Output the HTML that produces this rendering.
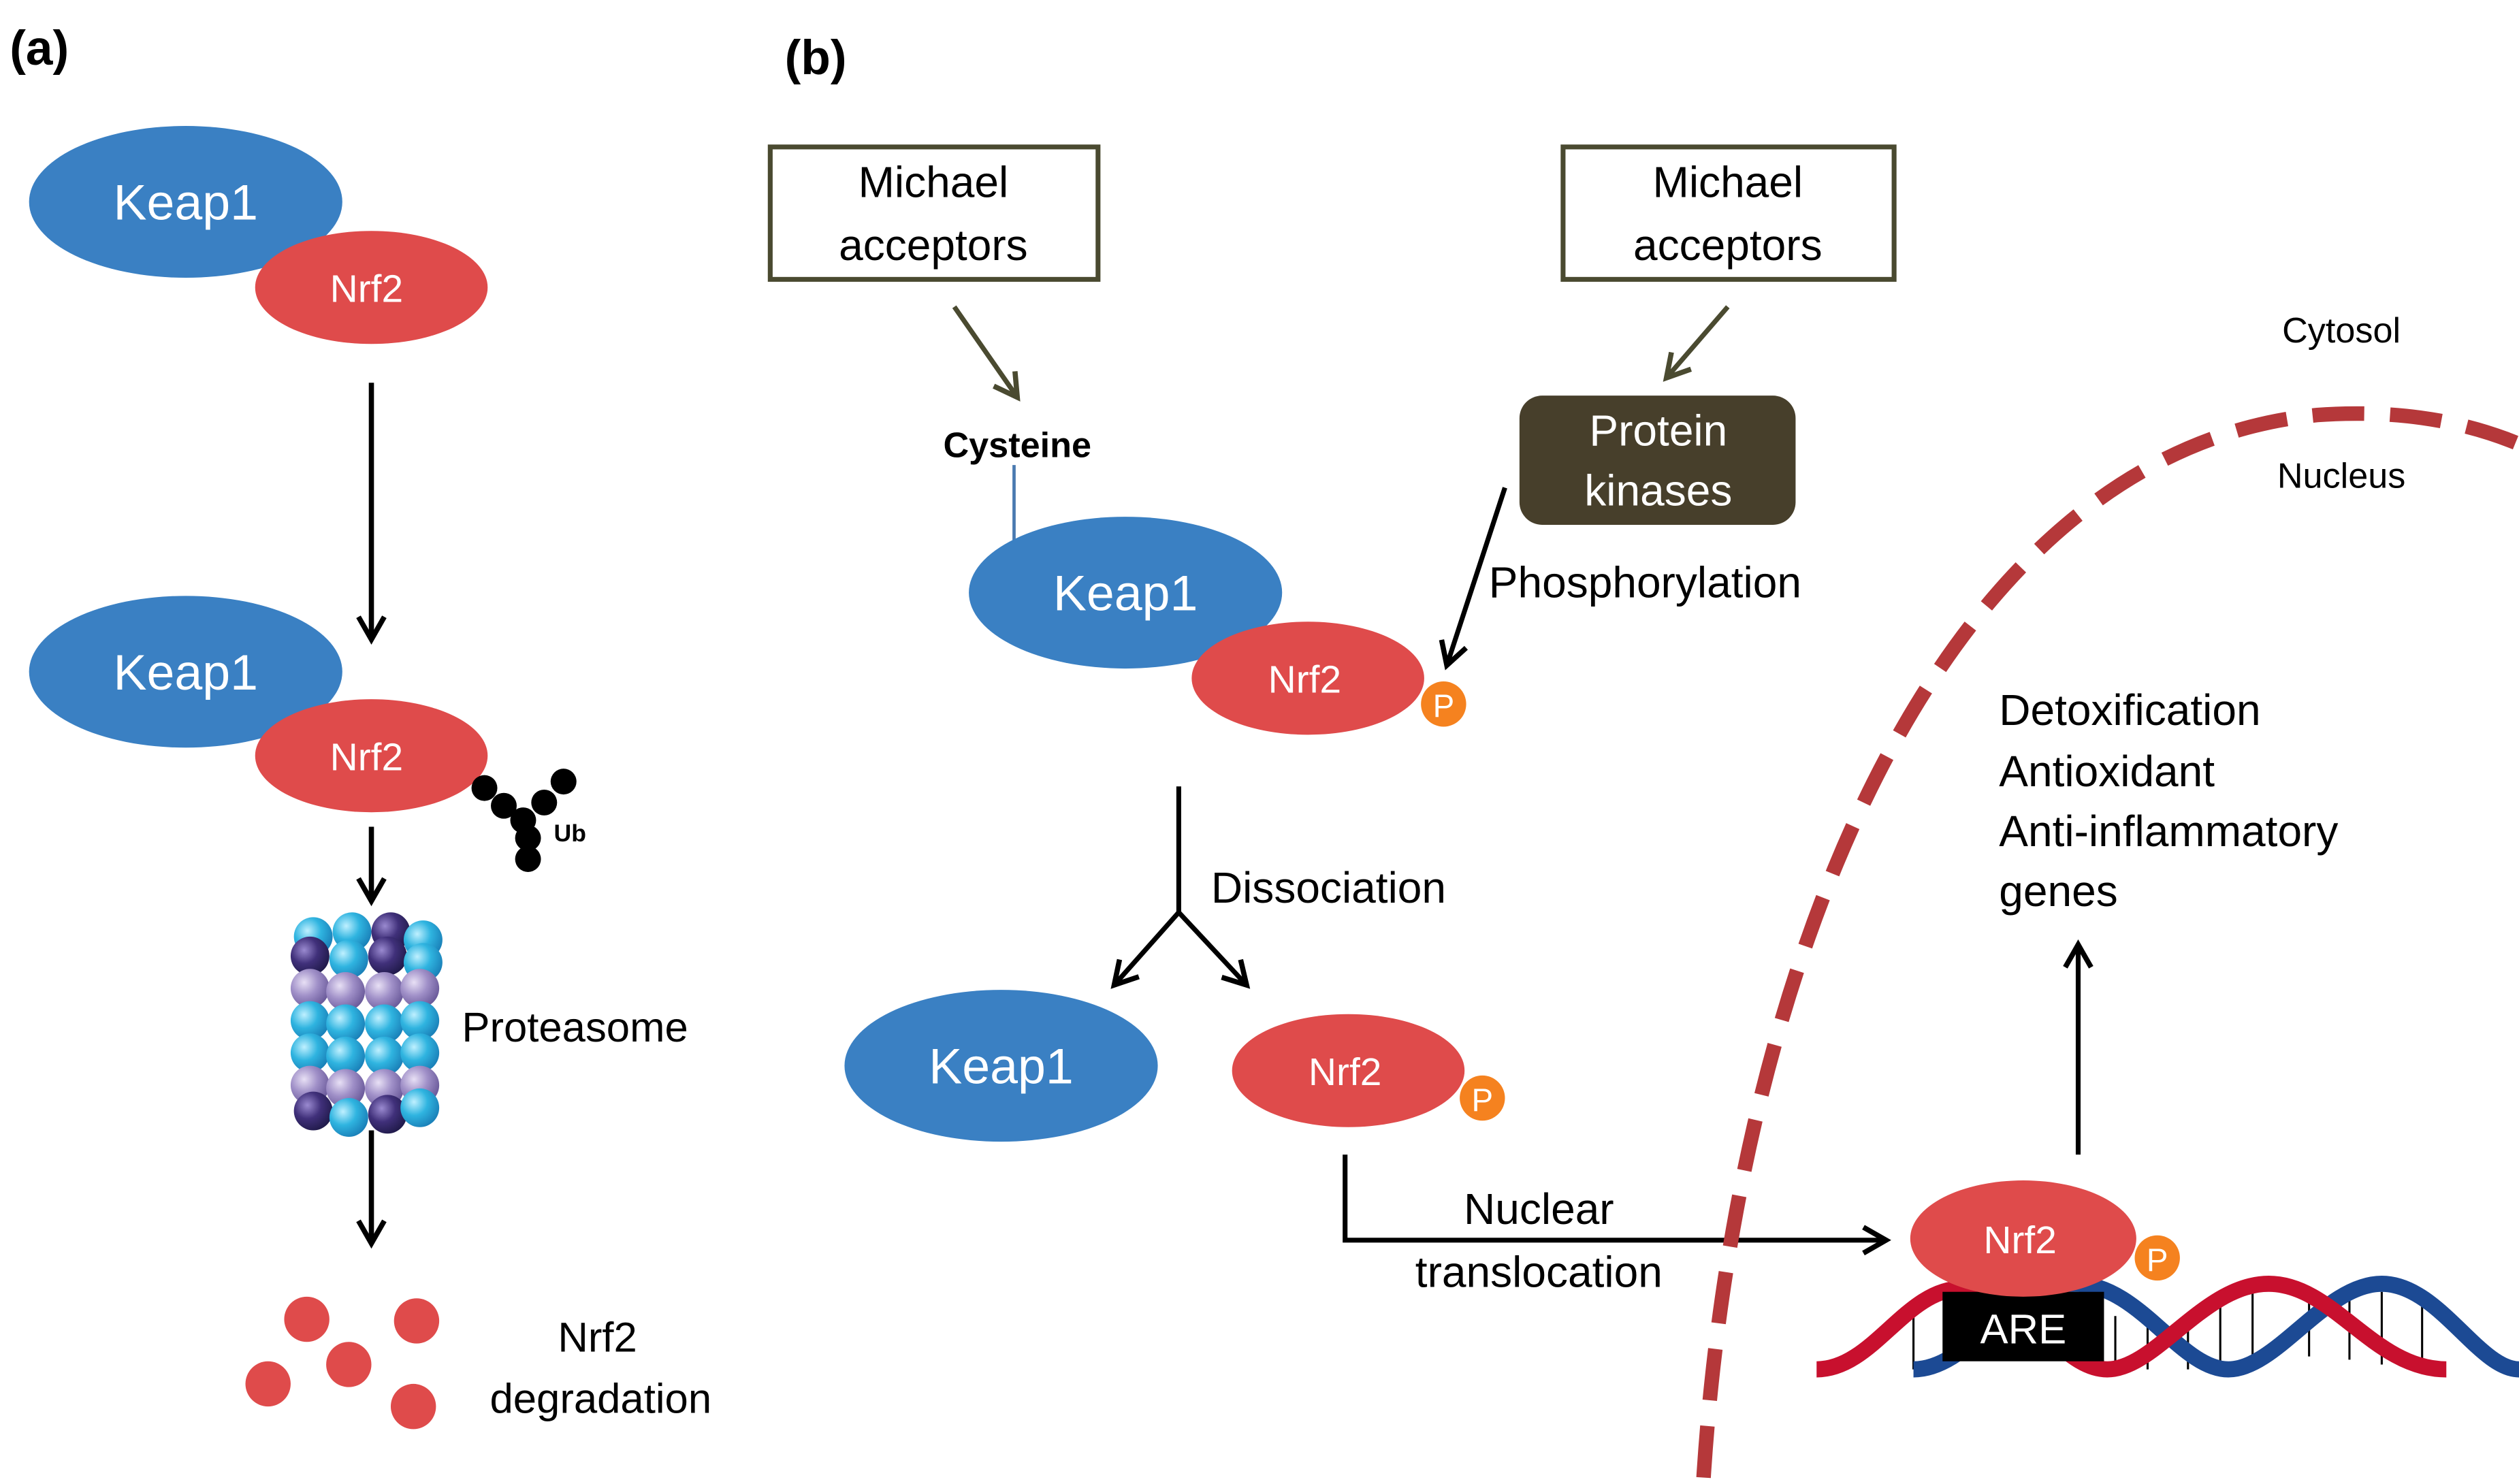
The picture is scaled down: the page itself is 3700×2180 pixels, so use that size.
<!DOCTYPE html>
<html><head><meta charset="utf-8"><style>
html,body{margin:0;padding:0;background:#fff;}
svg{display:block;}
text{font-family:"Liberation Sans",Arial,sans-serif;}
</style></head><body>
<svg width="3700" height="2180" viewBox="0 0 1560 919" preserveAspectRatio="none" xmlns="http://www.w3.org/2000/svg">
<defs>
<marker id="ahb" markerWidth="22" markerHeight="22" refX="18" refY="11" orient="auto" markerUnits="userSpaceOnUse">
<path d="M4,3 L18,11 L4,19" fill="none" stroke="#000" stroke-width="3.2"/>
</marker>
<marker id="aho" markerWidth="22" markerHeight="22" refX="18" refY="11" orient="auto" markerUnits="userSpaceOnUse">
<path d="M4,3 L18,11 L4,19" fill="none" stroke="#4a4a30" stroke-width="3.2"/>
</marker>
<radialGradient id="gc" cx="35%" cy="35%" r="70%"><stop offset="0" stop-color="#bff0ff"/><stop offset="0.5" stop-color="#2fb4e0"/><stop offset="1" stop-color="#1a80b8"/></radialGradient>
<radialGradient id="gp" cx="35%" cy="35%" r="70%"><stop offset="0" stop-color="#e8e0f5"/><stop offset="0.5" stop-color="#a090c8"/><stop offset="1" stop-color="#6a5a9a"/></radialGradient>
<radialGradient id="gd" cx="35%" cy="35%" r="70%"><stop offset="0" stop-color="#9a8ad0"/><stop offset="0.5" stop-color="#40307a"/><stop offset="1" stop-color="#201a4a"/></radialGradient>
</defs>

<text x="6" y="40" font-size="30" font-weight="bold">(a)</text>
<text x="486" y="46" font-size="30" font-weight="bold">(b)</text>

<!-- Panel a -->
<ellipse cx="115" cy="125" rx="97" ry="47" fill="#3a80c3"/>
<text x="115" y="136" font-size="31" fill="#fff" text-anchor="middle">Keap1</text>
<ellipse cx="230" cy="178" rx="72" ry="35" fill="#df4b4b"/>
<text x="227" y="187" font-size="24" fill="#fff" text-anchor="middle">Nrf2</text>
<line x1="230" y1="237" x2="230" y2="396" stroke="#000" stroke-width="3.2" marker-end="url(#ahb)"/>

<ellipse cx="115" cy="416" rx="97" ry="47" fill="#3a80c3"/>
<text x="115" y="427" font-size="31" fill="#fff" text-anchor="middle">Keap1</text>
<ellipse cx="230" cy="468" rx="72" ry="35" fill="#df4b4b"/>
<text x="227" y="477" font-size="24" fill="#fff" text-anchor="middle">Nrf2</text>
<g fill="#000">
<circle cx="300" cy="488" r="8"/><circle cx="312" cy="499" r="8"/><circle cx="324" cy="508" r="8"/>
<circle cx="337" cy="497" r="8"/><circle cx="349" cy="484" r="8"/>
<circle cx="327" cy="519" r="8"/><circle cx="327" cy="532" r="8"/>
</g>
<text x="343" y="521" font-size="15" font-weight="bold">Ub</text>
<line x1="230" y1="512" x2="230" y2="558" stroke="#000" stroke-width="3.2" marker-end="url(#ahb)"/>
<g>
<circle cx="194" cy="580" r="12" fill="url(#gc)"/><circle cx="218" cy="577" r="12" fill="url(#gc)"/><circle cx="242" cy="577" r="12" fill="url(#gd)"/><circle cx="262" cy="582" r="12" fill="url(#gc)"/>
<circle cx="192" cy="592" r="12" fill="url(#gd)"/><circle cx="216" cy="594" r="12" fill="url(#gc)"/><circle cx="240" cy="592" r="12" fill="url(#gd)"/><circle cx="262" cy="596" r="12" fill="url(#gc)"/>
<circle cx="192" cy="612" r="12" fill="url(#gp)"/><circle cx="214" cy="614" r="12" fill="url(#gp)"/><circle cx="238" cy="614" r="12" fill="url(#gp)"/><circle cx="260" cy="612" r="12" fill="url(#gp)"/>
<circle cx="192" cy="632" r="12" fill="url(#gc)"/><circle cx="214" cy="634" r="12" fill="url(#gc)"/><circle cx="238" cy="634" r="12" fill="url(#gc)"/><circle cx="260" cy="632" r="12" fill="url(#gc)"/>
<circle cx="192" cy="652" r="12" fill="url(#gc)"/><circle cx="214" cy="654" r="12" fill="url(#gc)"/><circle cx="238" cy="654" r="12" fill="url(#gc)"/><circle cx="260" cy="652" r="12" fill="url(#gc)"/>
<circle cx="192" cy="672" r="12" fill="url(#gp)"/><circle cx="214" cy="674" r="12" fill="url(#gp)"/><circle cx="238" cy="674" r="12" fill="url(#gp)"/><circle cx="260" cy="672" r="12" fill="url(#gp)"/>
<circle cx="194" cy="688" r="12" fill="url(#gd)"/><circle cx="216" cy="692" r="12" fill="url(#gc)"/><circle cx="240" cy="690" r="12" fill="url(#gd)"/><circle cx="260" cy="686" r="12" fill="url(#gc)"/>
</g>
<text x="286" y="645" font-size="26">Proteasome</text>
<line x1="230" y1="700" x2="230" y2="770" stroke="#000" stroke-width="3.2" marker-end="url(#ahb)"/>
<g fill="#df4b4b">
<circle cx="190" cy="817" r="14"/><circle cx="258" cy="818" r="14"/><circle cx="216" cy="845" r="14"/>
<circle cx="166" cy="857" r="14"/><circle cx="256" cy="871" r="14"/>
</g>
<text x="370" y="837" font-size="26" text-anchor="middle">Nrf2</text>
<text x="372" y="875" font-size="26" text-anchor="middle">degradation</text>

<!-- Panel b -->
<rect x="477" y="91" width="203" height="82" fill="#fff" stroke="#4a4a30" stroke-width="3"/>
<text x="578" y="122" font-size="27" text-anchor="middle">Michael</text>
<text x="578" y="161" font-size="27" text-anchor="middle">acceptors</text>
<line x1="591" y1="190" x2="630" y2="246" stroke="#4a4a30" stroke-width="3" marker-end="url(#aho)"/>
<text x="630" y="283" font-size="22" font-weight="bold" text-anchor="middle">Cysteine</text>
<line x1="628" y1="288" x2="628" y2="336" stroke="#4a7ab0" stroke-width="2"/>
<ellipse cx="697" cy="367" rx="97" ry="47" fill="#3a80c3"/>
<text x="697" y="378" font-size="31" fill="#fff" text-anchor="middle">Keap1</text>
<ellipse cx="810" cy="420" rx="72" ry="35" fill="#df4b4b"/>
<text x="808" y="429" font-size="24" fill="#fff" text-anchor="middle">Nrf2</text>
<circle cx="894" cy="436" r="14" fill="#f5821f"/>
<text x="894" y="444" font-size="20" fill="#fff" text-anchor="middle">P</text>

<rect x="968" y="91" width="205" height="82" fill="#fff" stroke="#4a4a30" stroke-width="3"/>
<text x="1070" y="122" font-size="27" text-anchor="middle">Michael</text>
<text x="1070" y="161" font-size="27" text-anchor="middle">acceptors</text>
<line x1="1070" y1="190" x2="1032" y2="234" stroke="#4a4a30" stroke-width="3" marker-end="url(#aho)"/>
<rect x="941" y="245" width="171" height="80" rx="14" fill="#473f2b"/>
<text x="1027" y="276" font-size="27" fill="#fff" text-anchor="middle">Protein</text>
<text x="1027" y="313" font-size="27" fill="#fff" text-anchor="middle">kinases</text>
<line x1="932" y1="302" x2="896" y2="412" stroke="#000" stroke-width="3" marker-end="url(#ahb)"/>
<text x="922" y="370" font-size="27">Phosphorylation</text>

<polyline points="730,487 730,565" fill="none" stroke="#000" stroke-width="3"/>
<line x1="730" y1="565" x2="690" y2="610" stroke="#000" stroke-width="3" marker-end="url(#ahb)"/>
<line x1="730" y1="565" x2="772" y2="610" stroke="#000" stroke-width="3" marker-end="url(#ahb)"/>
<text x="750" y="559" font-size="27">Dissociation</text>

<ellipse cx="620" cy="660" rx="97" ry="47" fill="#3a80c3"/>
<text x="620" y="671" font-size="31" fill="#fff" text-anchor="middle">Keap1</text>
<ellipse cx="835" cy="663" rx="72" ry="35" fill="#df4b4b"/>
<text x="833" y="672" font-size="24" fill="#fff" text-anchor="middle">Nrf2</text>
<circle cx="918" cy="680" r="14" fill="#f5821f"/>
<text x="918" y="688" font-size="20" fill="#fff" text-anchor="middle">P</text>

<polyline points="833,715 833,768 1168,768" fill="none" stroke="#000" stroke-width="3" marker-end="url(#ahb)"/>
<text x="953" y="758" font-size="27" text-anchor="middle">Nuclear</text>
<text x="953" y="797" font-size="27" text-anchor="middle">translocation</text>

<!-- nucleus membrane -->
<path d="M1055,915 C1075,600 1200,280 1435,257 Q1505,252 1560,275" fill="none" stroke="#b5383a" stroke-width="9" stroke-dasharray="32,16"/>
<text x="1450" y="212" font-size="22" text-anchor="middle">Cytosol</text>
<text x="1450" y="302" font-size="22" text-anchor="middle">Nucleus</text>

<!-- DNA -->
<g stroke="#000" stroke-width="1.3">
<line x1="1185" y1="815" x2="1185" y2="848"/><line x1="1310" y1="815" x2="1310" y2="848"/>
<line x1="1330" y1="820" x2="1330" y2="848"/><line x1="1355" y1="815" x2="1355" y2="848"/>
<line x1="1375" y1="808" x2="1375" y2="848"/><line x1="1395" y1="800" x2="1395" y2="848"/>
<line x1="1430" y1="805" x2="1430" y2="840"/><line x1="1455" y1="800" x2="1455" y2="842"/>
<line x1="1475" y1="800" x2="1475" y2="845"/><line x1="1500" y1="805" x2="1500" y2="848"/>
</g>
<path d="M1185,848 C1220,848 1245,795 1285,795 C1325,795 1350,848 1380,848 C1410,848 1440,795 1475,795 C1510,795 1535,848 1560,848" fill="none" stroke="#1c4a94" stroke-width="10"/>
<path d="M1125,848 C1160,848 1180,798 1215,798 C1255,798 1275,848 1305,848 C1335,848 1365,795 1405,795 C1445,795 1470,848 1515,848" fill="none" stroke="#c8102e" stroke-width="10"/>
<rect x="1203" y="800" width="100" height="43" fill="#000"/>
<text x="1253" y="832" font-size="26" fill="#fff" text-anchor="middle">ARE</text>
<ellipse cx="1253" cy="767" rx="70" ry="36" fill="#df4b4b"/>
<text x="1251" y="776" font-size="24" fill="#fff" text-anchor="middle">Nrf2</text>
<circle cx="1336" cy="779" r="14" fill="#f5821f"/>
<text x="1336" y="787" font-size="20" fill="#fff" text-anchor="middle">P</text>

<line x1="1287" y1="715" x2="1287" y2="585" stroke="#000" stroke-width="3" marker-end="url(#ahb)"/>
<text x="1238" y="449" font-size="27">Detoxification</text>
<text x="1238" y="487" font-size="27">Antioxidant</text>
<text x="1238" y="524" font-size="27">Anti-inflammatory</text>
<text x="1238" y="561" font-size="27">genes</text>
</svg>
</body></html>
